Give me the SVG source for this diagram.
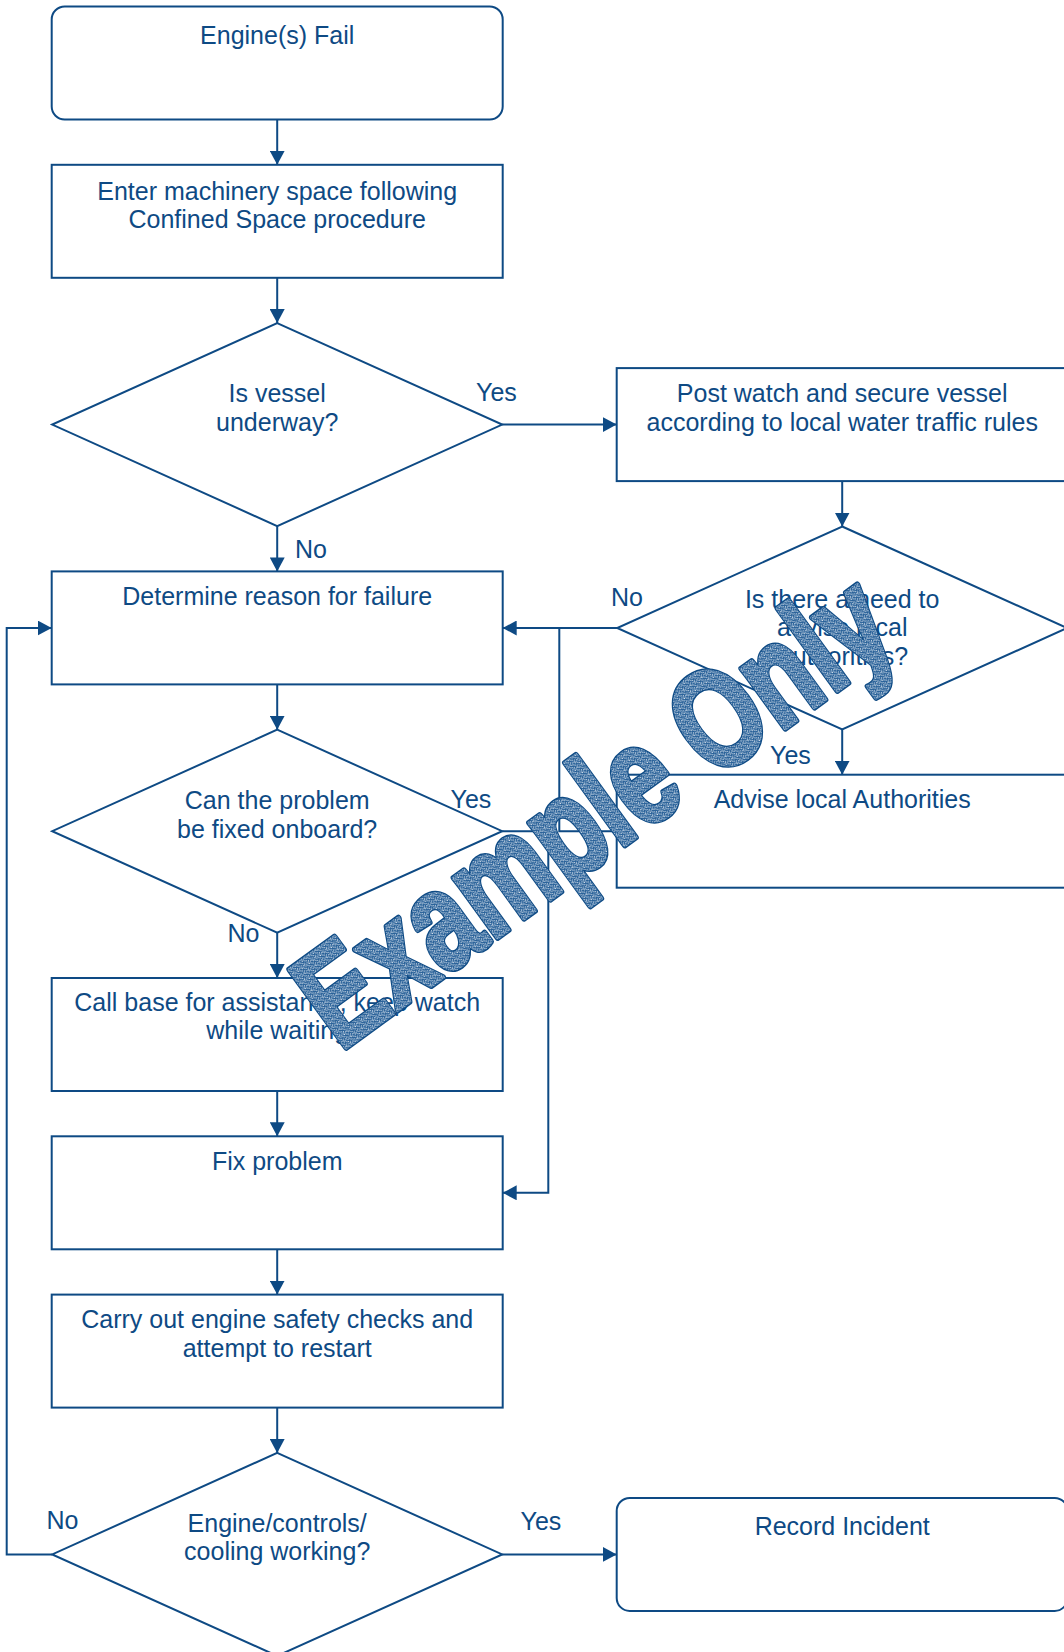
<svg xmlns="http://www.w3.org/2000/svg" width="1064" height="1652" viewBox="0 0 1064 1652">
<style>
.box{fill:#fff;stroke:#0E4A84;stroke-width:2}
.t{font-family:"Liberation Sans",Arial,sans-serif;font-size:25px;fill:#0E4A84;text-anchor:middle}
.lbl{font-family:"Liberation Sans",Arial,sans-serif;font-size:25px;fill:#0E4A84}
.c{fill:none;stroke:#0E4A84;stroke-width:2}
.wm{font-family:"Liberation Sans",Arial,sans-serif;font-weight:bold;font-size:140px;stroke-linejoin:round}
.wm1{fill:#0E4A84;stroke:#0E4A84;stroke-width:6.5}
.wm2{fill:url(#stip);stroke:url(#stip);stroke-width:3.8}
</style>
<defs>
<marker id="ah" markerUnits="userSpaceOnUse" markerWidth="15" markerHeight="15" refX="14" refY="7.5" orient="auto">
<path d="M0,0 L14,7.5 L0,15 z" fill="#0E4A84"/>
</marker>
<pattern id="stip" width="6" height="6" patternUnits="userSpaceOnUse">
<rect width="6" height="6" fill="#2a6299"/>
<rect x="0" y="0" width="1" height="1" fill="#fff"/>
<rect x="3" y="1" width="1" height="1" fill="#fff"/>
<rect x="1" y="3" width="1" height="1" fill="#fff"/>
<rect x="4" y="4" width="1" height="1" fill="#fff"/>
<rect x="5" y="2" width="1" height="1" fill="#e6edf5"/>
<rect x="2" y="5" width="1" height="1" fill="#e6edf5"/>
<rect x="2" y="0" width="1" height="1" fill="#c9d8e8"/>
<rect x="5" y="5" width="1" height="1" fill="#c9d8e8"/>
<rect x="0" y="4" width="1" height="1" fill="#dbe5f0"/>
<rect x="4" y="2" width="1" height="1" fill="#9db8d4"/>
</pattern>
</defs>
<rect width="1064" height="1652" fill="#fff"/>

<g id="connectors">
<path class="c" d="M277.2,119.5 V164.8" marker-end="url(#ah)"/>
<path class="c" d="M277.2,277.8 V323.1" marker-end="url(#ah)"/>
<path class="c" d="M502.2,424.6 H616.7" marker-end="url(#ah)"/>
<path class="c" d="M277.2,526.1 V571.4" marker-end="url(#ah)"/>
<path class="c" d="M842.2,481.1 V526.5" marker-end="url(#ah)"/>
<path class="c" d="M617.2,628 H502.7" marker-end="url(#ah)"/>
<path class="c" d="M842.2,729.5 V774.7" marker-end="url(#ah)"/>
<path class="c" d="M616.7,831.2 H559.3 V628"/>
<path class="c" d="M277.2,684.4 V729.7" marker-end="url(#ah)"/>
<path class="c" d="M502.2,831.2 H548.3 V1192.8 H502.7" marker-end="url(#ah)"/>
<path class="c" d="M277.2,932.7 V978" marker-end="url(#ah)"/>
<path class="c" d="M277.2,1091 V1136.3" marker-end="url(#ah)"/>
<path class="c" d="M277.2,1249.3 V1294.6" marker-end="url(#ah)"/>
<path class="c" d="M277.2,1407.6 V1452.9" marker-end="url(#ah)"/>
<path class="c" d="M52.2,1554.4 H6.7 V628 H51.7" marker-end="url(#ah)"/>
<path class="c" d="M502.2,1554.4 H616.7" marker-end="url(#ah)"/>
<text class="lbl" x="476" y="401">Yes</text>
<text class="lbl" x="295" y="558">No</text>
<text class="lbl" x="611" y="606">No</text>
<text class="lbl" x="770" y="764">Yes</text>
<text class="lbl" x="450.5" y="807.5">Yes</text>
<text class="lbl" x="227.5" y="942">No</text>
<text class="lbl" x="46.5" y="1529">No</text>
<text class="lbl" x="520.5" y="1530">Yes</text>
</g>

<g id="n-engine-fail">
<rect class="box" x="51.7" y="6.5" width="451" height="113" rx="13"/>
<text class="t" x="277.2" y="44">Engine(s) Fail</text>
</g>
<g id="n-enter">
<rect class="box" x="51.7" y="164.8" width="451" height="113"/>
<text class="t" x="277.2" y="199.5">Enter machinery space following</text>
<text class="t" x="277.2" y="228">Confined Space procedure</text>
</g>
<g id="n-underway">
<polygon class="box" points="277.2,323.1 502.2,424.6 277.2,526.1 52.2,424.6"/>
<text class="t" x="277.2" y="402">Is vessel</text>
<text class="t" x="277.2" y="430.5">underway?</text>
</g>
<g id="n-post-watch">
<rect class="box" x="616.7" y="368.1" width="451" height="113"/>
<text class="t" x="842.2" y="402">Post watch and secure vessel</text>
<text class="t" x="842.2" y="430.6">according to local water traffic rules</text>
</g>
<g id="n-determine">
<rect class="box" x="51.7" y="571.4" width="451" height="113"/>
<text class="t" x="277.2" y="604.5">Determine reason for failure</text>
</g>
<g id="n-need-advise">
<polygon class="box" points="842.2,526.5 1067.2,628 842.2,729.5 617.2,628"/>
<text class="t" x="842.2" y="607.5">Is there a need to</text>
<text class="t" x="842.2" y="636.2">advise local</text>
<text class="t" x="842.2" y="664.9">Authorities?</text>
</g>
<g id="n-advise">
<rect class="box" x="616.7" y="774.7" width="451" height="113"/>
<text class="t" x="842.2" y="808">Advise local Authorities</text>
</g>
<g id="n-can-fix">
<polygon class="box" points="277.2,729.7 502.2,831.2 277.2,932.7 52.2,831.2"/>
<text class="t" x="277.2" y="809">Can the problem</text>
<text class="t" x="277.2" y="837.5">be fixed onboard?</text>
</g>
<g id="n-call-base">
<rect class="box" x="51.7" y="978" width="451" height="113"/>
<text class="t" x="277.2" y="1010.8">Call base for assistance, keep watch</text>
<text class="t" x="277.2" y="1039.3">while waiting</text>
</g>
<g id="n-fix">
<rect class="box" x="51.7" y="1136.3" width="451" height="113"/>
<text class="t" x="277.2" y="1169.5">Fix problem</text>
</g>
<g id="n-carry-out">
<rect class="box" x="51.7" y="1294.6" width="451" height="113"/>
<text class="t" x="277.2" y="1327.8">Carry out engine safety checks and</text>
<text class="t" x="277.2" y="1356.5">attempt to restart</text>
</g>
<g id="n-working">
<polygon class="box" points="277.2,1452.9 502.2,1554.4 277.2,1655.9 52.2,1554.4"/>
<text class="t" x="277.2" y="1531.8">Engine/controls/</text>
<text class="t" x="277.2" y="1560.3">cooling working?</text>
</g>
<g id="n-record">
<rect class="box" x="616.7" y="1497.9" width="451" height="113" rx="13"/>
<text class="t" x="842.2" y="1534.5">Record Incident</text>
</g>

<g id="watermark" transform="translate(340,1052) rotate(-36) scale(0.75,1)">
<text class="wm wm1">Example Only</text>
<text class="wm wm2">Example Only</text>
</g>
</svg>
